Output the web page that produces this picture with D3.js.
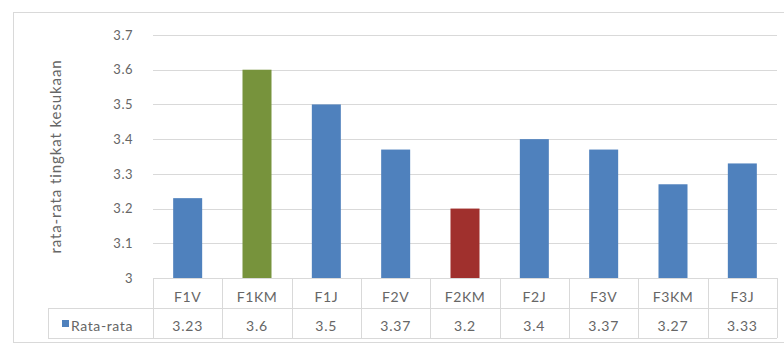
<!DOCTYPE html>
<html>
<head>
<meta charset="utf-8">
<script src="https://cdn.jsdelivr.net/npm/d3@7"></script>
<style>
  html, body { margin: 0; padding: 0; background: #fff; }
  svg { display: block; font-family: Lato, "Open Sans", sans-serif; }
</style>
</head>
<body>
<svg id="chart" width="784" height="345"></svg>
<script>
// Category labels, mean scores and bar colours
const categories = ["F1V", "F1KM", "F1J", "F2V", "F2KM", "F2J", "F3V", "F3KM", "F3J"];
const values = [3.23, 3.6, 3.5, 3.37, 3.2, 3.4, 3.37, 3.27, 3.33];
const valueLabels = ["3.23", "3.6", "3.5", "3.37", "3.2", "3.4", "3.37", "3.27", "3.33"];
const barColors = ["#4F81BD", "#77933C", "#4F81BD", "#4F81BD", "#A0302D", "#4F81BD", "#4F81BD", "#4F81BD", "#4F81BD"];
const yTicks = [3, 3.1, 3.2, 3.3, 3.4, 3.5, 3.6, 3.7];
const seriesName = "Rata-rata";
const yTitle = "rata-rata tingkat kesukaan";

const svg = d3.select("#chart");
const plot = { left: 153, right: 777, top: 35, bottom: 278 };
const legendLeft = 48;
const rowH = 30;
const textColor = "#666666";

// Outer chart frame
svg.append("rect")
  .attr("x", 13.5).attr("y", 12.5)
  .attr("width", 800).attr("height", 330)
  .attr("fill", "#fff").attr("stroke", "#D9D9D9");

const x = d3.scaleBand().domain(categories).range([plot.left, plot.right]).paddingInner(0).paddingOuter(0);
const y = d3.scaleLinear().domain([3, 3.7]).range([plot.bottom, plot.top]);

// Horizontal gridlines
svg.append("g").selectAll("line").data(yTicks.slice(1)).join("line")
  .attr("x1", plot.left).attr("x2", plot.right)
  .attr("y1", d => Math.round(y(d)) + 0.5).attr("y2", d => Math.round(y(d)) + 0.5)
  .attr("stroke", "#D9D9D9").attr("stroke-width", 1);

// Y tick labels
const yAxis = d3.axisLeft(y).tickValues(yTicks).tickSize(0).tickPadding(0)
  .tickFormat(d => d === 3 ? "3" : d3.format(".1f")(d));
const gy = svg.append("g").attr("transform", `translate(133,0)`).call(yAxis);
gy.select(".domain").remove();
gy.selectAll("text").attr("fill", textColor).style("font-size", "13px")
  .style("letter-spacing", "0.5px")
  .style("font-family", "Lato, 'Open Sans', sans-serif");

// Y axis title
svg.append("text")
  .attr("transform", `translate(61,${(plot.top + plot.bottom) / 2 + 0}) rotate(-90)`)
  .attr("text-anchor", "middle")
  .attr("fill", textColor).style("font-size", "15px")
  .style("letter-spacing", "0.9px")
  .text(yTitle);

// Bars
const barW = 29;
svg.append("g").selectAll("rect").data(values).join("rect")
  .attr("x", (d, i) => x(categories[i]) + (x.bandwidth() - barW) / 2)
  .attr("width", barW)
  .attr("y", d => y(d))
  .attr("height", d => y(3) - y(d))
  .attr("fill", (d, i) => barColors[i]);

// Data table beneath the plot
const tbl = svg.append("g");
const lineColor = "#D9D9D9";
const hline = (x1, x2, yy) => tbl.append("line").attr("x1", x1).attr("x2", x2)
  .attr("y1", yy + 0.5).attr("y2", yy + 0.5).attr("stroke", lineColor);
hline(plot.left, plot.right, plot.bottom);
hline(legendLeft, plot.right, plot.bottom + rowH);
hline(legendLeft, plot.right, plot.bottom + 2 * rowH);
tbl.selectAll("line.v").data(d3.range(categories.length + 1)).join("line")
  .attr("class", "v")
  .attr("x1", i => Math.round(i < categories.length ? x(categories[i]) : plot.right) + 0.5)
  .attr("x2", i => Math.round(i < categories.length ? x(categories[i]) : plot.right) + 0.5)
  .attr("y1", plot.bottom).attr("y2", plot.bottom + 2 * rowH)
  .attr("stroke", lineColor);
tbl.append("line").attr("x1", legendLeft + 0.5).attr("x2", legendLeft + 0.5)
  .attr("y1", plot.bottom + rowH).attr("y2", plot.bottom + 2 * rowH).attr("stroke", lineColor);

tbl.selectAll("text.cat").data(categories).join("text")
  .attr("class", "cat")
  .attr("x", d => x(d) + x.bandwidth() / 2)
  .attr("y", plot.bottom + 24)
  .attr("text-anchor", "middle").attr("fill", textColor).style("font-size", "14px")
  .style("letter-spacing", "0.6px")
  .text(d => d);
tbl.selectAll("text.val").data(valueLabels).join("text")
  .attr("class", "val")
  .attr("x", (d, i) => x(categories[i]) + x.bandwidth() / 2)
  .attr("y", plot.bottom + rowH + 23)
  .attr("text-anchor", "middle").attr("fill", textColor).style("font-size", "14px")
  .style("letter-spacing", "0.8px")
  .text(d => d);

// Legend key inside the table
tbl.append("rect").attr("x", 62).attr("y", plot.bottom + rowH + 12)
  .attr("width", 7).attr("height", 7).attr("fill", barColors[0]);
tbl.append("text").attr("x", 71).attr("y", plot.bottom + rowH + 23)
  .attr("fill", textColor).style("font-size", "14px")
  .style("letter-spacing", "0.6px").text(seriesName);
</script>
</body>
</html>
